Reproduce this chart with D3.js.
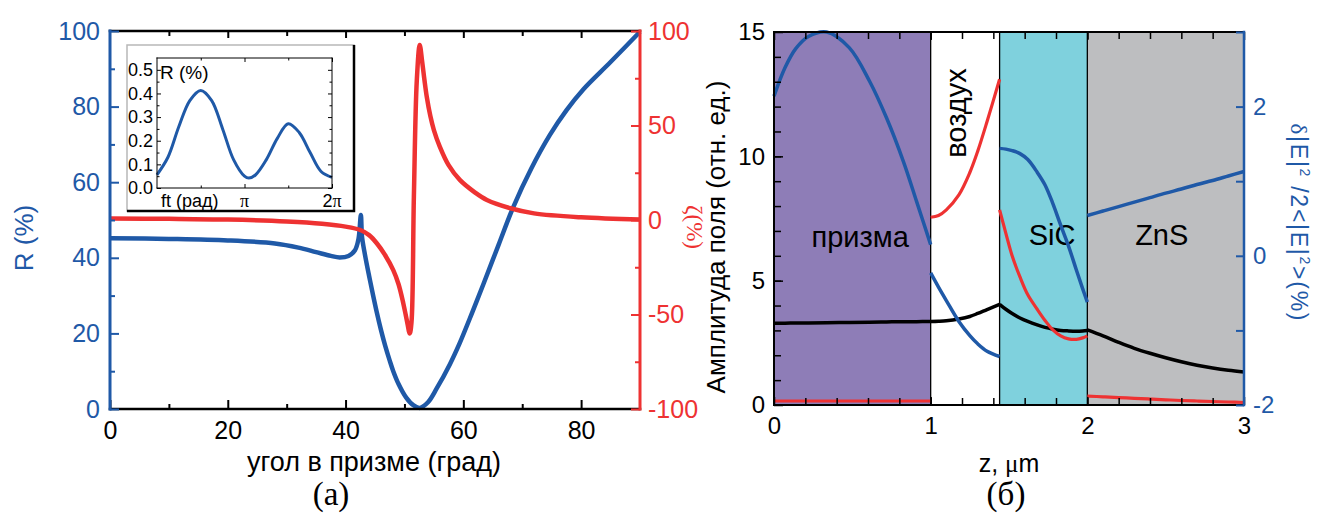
<!DOCTYPE html>
<html>
<head>
<meta charset="utf-8">
<script src="https://cdn.jsdelivr.net/npm/d3@7"></script>
<style>
  body { margin: 0; background: #fff; }
  svg { display: block; font-family: "Liberation Sans", Arial, sans-serif; }
</style>
</head>
<body>
<svg width="1317" height="514"></svg>
<script>
// ---- panel (a): reflectance R and zeta vs angle in prism
const angR  = [0, 10, 20, 28, 32, 35, 37.5, 39, 40.5, 41.6, 42.2, 42.6, 42.8, 43.3, 44, 44.7, 45.3, 46, 46.7, 47.5, 48.1, 49, 50.3, 51.5, 52.6, 54, 55.5, 57.7, 59.4, 61.5, 63.4, 66, 68.5, 71.5, 74.7, 77.5, 80.4, 85, 90];
const reflR = [45.2, 45.0, 44.6, 43.8, 42.7, 41.5, 40.5, 40.1, 40.5, 42.0, 45.0, 51.3, 45.5, 40.8, 35.2, 29.9, 25.6, 21.0, 16.9, 12.8, 10.0, 6.6, 3.0, 1.0, 0.3, 1.8, 5.5, 11.8, 17.5, 25.5, 33.0, 43.5, 53.5, 63.5, 72.5, 79.0, 84.6, 91.8, 99.8];

const angZ = [0, 10, 20, 30, 36, 40, 42.5, 44, 45.3, 46.7, 48.1, 49.0, 49.8, 50.4, 50.9, 51.2, 51.6, 52.1, 52.6, 53.0, 53.4, 53.8, 54.4, 55.0, 56.0, 57.5, 59.4, 62, 64, 68, 72, 80, 90];
const zeta = [0.8, 0.6, 0.2, -0.8, -2.0, -3.5, -5.3, -8.0, -12.3, -18.5, -26.5, -34, -44, -53, -60, -54, 12, 74, 92.6, 84, 74, 65, 55, 47.6, 38.8, 29, 21.2, 14.5, 10.6, 6.2, 3.5, 1.4, 0.2];

// inset: R (%) over one period, phase in units of pi
const insPhase = [0, 0.125, 0.25, 0.375, 0.5, 0.625, 0.75, 0.875, 1.0, 1.05, 1.125, 1.25, 1.375, 1.5, 1.625, 1.75, 1.875, 2.0];
const insR     = [0.056, 0.13, 0.26, 0.37, 0.413, 0.37, 0.25, 0.12, 0.05, 0.042, 0.055, 0.12, 0.21, 0.272, 0.235, 0.15, 0.07, 0.045];

// ---- panel (б): field in layered structure
const layerEdges  = [0, 1, 1.44, 2, 3];
const layerColors = ["#8e7db7", "#ffffff", "#7fd1dd", "#bdbec0"];

const zPr    = [0, 0.07, 0.14, 0.22, 0.336, 0.48, 0.61, 0.718, 0.825, 0.91, 1.0];
const ampPr  = [3.29, 3.29, 3.3, 3.3, 3.31, 3.32, 3.33, 3.34, 3.35, 3.35, 3.36];
const redPr  = [0.16, 0.16, 0.16, 0.16, 0.16, 0.16, 0.16, 0.16, 0.16, 0.16, 0.16];
const dPr    = [2.14, 2.52, 2.78, 2.94, 3.0, 2.79, 2.34, 1.85, 1.27, 0.73, 0.15];

const zAir   = [1.0, 1.05, 1.1, 1.18, 1.25, 1.3, 1.36, 1.44];
const ampAir = [3.36, 3.37, 3.39, 3.46, 3.56, 3.68, 3.84, 4.05];
const redAir = [7.55, 7.62, 7.85, 8.45, 9.35, 10.2, 11.4, 13.1];
const dAir   = [-0.23, -0.42, -0.6, -0.88, -1.07, -1.18, -1.28, -1.35];

const zSiC   = [1.44, 1.48, 1.52, 1.57, 1.62, 1.68, 1.73, 1.78, 1.83, 1.88, 1.93, 1.97, 2.0];
const ampSiC = [4.05, 3.85, 3.68, 3.5, 3.36, 3.22, 3.12, 3.05, 3.0, 2.98, 2.97, 2.98, 3.0];
const redSiC = [7.85, 6.9, 6.0, 5.15, 4.43, 3.85, 3.4, 3.02, 2.78, 2.66, 2.64, 2.7, 2.78];
const dSiC   = [1.44, 1.43, 1.41, 1.37, 1.29, 1.12, 0.95, 0.7, 0.41, 0.13, -0.19, -0.44, -0.62];

const zZnS   = [2.0, 2.1, 2.2, 2.3, 2.4, 2.5, 2.6, 2.7, 2.8, 2.9, 3.0];
const ampZnS = [3.02, 2.78, 2.52, 2.28, 2.08, 1.9, 1.74, 1.6, 1.49, 1.4, 1.33];
const redZnS = [0.36, 0.33, 0.3, 0.27, 0.24, 0.21, 0.18, 0.16, 0.14, 0.12, 0.1];
const dZnS   = [0.54, 0.6, 0.66, 0.72, 0.78, 0.84, 0.895, 0.955, 1.01, 1.07, 1.13];

const blue = "#1f59a7", red = "#ee3232";
const sans = "'Liberation Sans', Arial, sans-serif",
      serif = "'Liberation Serif', 'Times New Roman', serif";

var svg = d3.select("svg");

function curve(x, y) {
  return d3.line().x(d => x(d[0])).y(d => y(d[1])).curve(d3.curveCatmullRom.alpha(0.5));
}

function axis(parent, make, scale, o) {
  var g = parent.append("g").attr("transform", `translate(${o.tx || 0},${o.ty || 0})`);
  g.append("g").call(make(scale).tickValues(o.minor).tickSize(-o.minSize).tickFormat(() => ""));
  g.append("g").call(make(scale).tickValues(o.major).tickSize(-o.majSize).tickPadding(o.pad || 8)
                     .tickFormat(o.fmt || (() => "")));
  g.selectAll(".domain").remove();
  g.selectAll("line").attr("stroke", o.color).attr("stroke-width", o.tw || 1.5);
  g.selectAll("text").attr("fill", o.color).style("font-size", o.fs + "px").style("font-family", sans);
  var r = scale.range(), vert = (make === d3.axisLeft || make === d3.axisRight);
  g.append("line")
   .attr("x1", vert ? 0 : r[0]).attr("x2", vert ? 0 : r[1])
   .attr("y1", vert ? r[0] : 0).attr("y2", vert ? r[1] : 0)
   .attr("stroke", o.color).attr("stroke-width", o.lw)
   .attr("stroke-linecap", "square");
  return g;
}

// ================= panel (a) =================
var xA = d3.scaleLinear().domain([0, 90]).range([110, 640]),
    yR = d3.scaleLinear().domain([0, 100]).range([409, 31]),
    yZ = d3.scaleLinear().domain([-100, 100]).range([409, 31]);

var gA = svg.append("g");

gA.append("path").datum(d3.zip(angR, reflR))
  .attr("d", curve(xA, yR)).attr("fill", "none")
  .attr("stroke", blue).attr("stroke-width", 4.5);

gA.append("path").datum(d3.zip(angZ, zeta))
  .attr("d", curve(xA, yZ)).attr("fill", "none")
  .attr("stroke", red).attr("stroke-width", 4.5);

axis(gA, d3.axisBottom, xA, {ty: 409, major: [0, 20, 40, 60, 80], minor: d3.range(10, 90, 20),
     majSize: 9, minSize: 5, color: "#000", lw: 2.5, tw: 2, fs: 25, pad: 12, fmt: d => d});
axis(gA, d3.axisTop, xA, {ty: 31, major: [20, 40, 60, 80], minor: d3.range(10, 90, 20),
     majSize: 7, minSize: 5, color: "#000", lw: 2.5, tw: 2, fs: 25});
axis(gA, d3.axisLeft, yR, {tx: 110, major: d3.range(0, 101, 20), minor: d3.range(10, 100, 20),
     majSize: 9, minSize: 5, color: blue, lw: 3, tw: 2, fs: 25, pad: 10, fmt: d => d});
axis(gA, d3.axisRight, yZ, {tx: 640, major: [-100, -50, 0, 50, 100], minor: [-75, -25, 25, 75],
     majSize: 9, minSize: 5, color: red, lw: 3, tw: 2, fs: 25, pad: 8, fmt: d => d});

gA.append("text").attr("x", 374).attr("y", 471).attr("text-anchor", "middle")
  .style("font-size", "27px").text("угол в призме (град)");
gA.append("text").attr("transform", "translate(33,238) rotate(-90)").attr("text-anchor", "middle")
  .attr("fill", blue).style("font-size", "26px").text("R (%)");
gA.append("text").attr("transform", "translate(687,227) rotate(90)").attr("text-anchor", "middle")
  .attr("fill", red).style("font-family", serif).style("font-size", "23px").text("ζ(%)");
gA.append("text").attr("x", 331).attr("y", 505).attr("text-anchor", "middle")
  .style("font-family", serif).style("font-size", "33px").text("(а)");

// ---- inset
var gI = svg.append("g");
gI.append("rect").attr("x", 127).attr("y", 45).attr("width", 227).attr("height", 166)
  .attr("fill", "#fff").attr("stroke", "#b8b8b8").attr("stroke-width", 1.5);
gI.append("path").attr("d", "M354,45V211H127").attr("fill", "none")
  .attr("stroke", "#000").attr("stroke-width", 2.5);

var xI = d3.scaleLinear().domain([0, 2]).range([157, 332]),
    yI = d3.scaleLinear().domain([0, 0.55]).range([188, 58]);

gI.append("path").datum(d3.zip(insPhase, insR))
  .attr("d", curve(xI, yI)).attr("fill", "none")
  .attr("stroke", blue).attr("stroke-width", 3);

axis(gI, d3.axisLeft, yI, {tx: 157, major: d3.range(0, 0.51, 0.1), minor: d3.range(0.05, 0.55, 0.1),
     majSize: 4, minSize: 2.5, color: "#000", lw: 1, tw: 1, fs: 18, pad: 4, fmt: d3.format(".1f")});
axis(gI, d3.axisRight, yI, {tx: 332, major: d3.range(0, 0.51, 0.1), minor: d3.range(0.05, 0.55, 0.1),
     majSize: 4, minSize: 2.5, color: "#000", lw: 1, tw: 1, fs: 18});
axis(gI, d3.axisBottom, xI, {ty: 188, major: [1, 2], minor: [0.5, 1.5],
     majSize: 4, minSize: 2.5, color: "#000", lw: 1, tw: 1, fs: 18});
axis(gI, d3.axisTop, xI, {ty: 58, major: [1, 2], minor: [0.5, 1.5],
     majSize: 4, minSize: 2.5, color: "#000", lw: 1, tw: 1, fs: 18});

gI.append("text").attr("x", 160).attr("y", 79).style("font-size", "19px").text("R (%)");
gI.append("text").attr("x", 161).attr("y", 207).style("font-size", "18px").text("ft (рад)");
gI.append("text").attr("x", xI(1)).attr("y", 207).attr("text-anchor", "middle")
  .style("font-family", serif).style("font-size", "18px").text("π");
gI.append("text").attr("x", xI(2)).attr("y", 207).attr("text-anchor", "middle")
  .style("font-size", "18px")
  .call(t => { t.append("tspan").text("2"); t.append("tspan").style("font-family", serif).text("π"); });

// ================= panel (б) =================
var xB = d3.scaleLinear().domain([0, 3]).range([774, 1244]),
    yAmp = d3.scaleLinear().domain([0, 15]).range([405, 32]),
    yD = d3.scaleLinear().domain([-2, 3]).range([405, 32]);

var gB = svg.append("g");

gB.selectAll("rect.layer")
  .data(layerColors)
  .enter().append("rect")
  .attr("class", "layer")
  .attr("x", (d, i) => xB(layerEdges[i]))
  .attr("width", (d, i) => xB(layerEdges[i + 1]) - xB(layerEdges[i]))
  .attr("y", yAmp(15)).attr("height", yAmp(0) - yAmp(15))
  .attr("fill", d => d);

gB.selectAll("line.edge")
  .data(layerEdges.slice(1, -1))
  .enter().append("line")
  .attr("class", "edge")
  .attr("x1", d => xB(d)).attr("x2", d => xB(d))
  .attr("y1", yAmp(15)).attr("y2", yAmp(0))
  .attr("stroke", "#000").attr("stroke-width", 1.3);

gB.append("text").attr("x", xB(0.55)).attr("y", 247).attr("text-anchor", "middle")
  .style("font-size", "29px").text("призма");
gB.append("text").attr("transform", `translate(${xB(1.22) + 1},113) rotate(-90)`).attr("text-anchor", "middle")
  .style("font-size", "29px").text("воздух");
gB.append("text").attr("x", xB(1.775)).attr("y", 245).attr("text-anchor", "middle")
  .style("font-size", "29px").text("SiC");
gB.append("text").attr("x", xB(2.475)).attr("y", 245).attr("text-anchor", "middle")
  .style("font-size", "29px").text("ZnS");

var segments = [
  {z: zPr, amp: ampPr, r: redPr, d: dPr},
  {z: zAir, amp: ampAir, r: redAir, d: dAir},
  {z: zSiC, amp: ampSiC, r: redSiC, d: dSiC},
  {z: zZnS, amp: ampZnS, r: redZnS, d: dZnS}
];

segments.forEach(s => {
  gB.append("path").datum(d3.zip(s.z, s.amp)).attr("d", curve(xB, yAmp))
    .attr("fill", "none").attr("stroke", "#000").attr("stroke-width", 3.5);
});
segments.forEach(s => {
  gB.append("path").datum(d3.zip(s.z, s.r)).attr("d", curve(xB, yAmp))
    .attr("fill", "none").attr("stroke", red).attr("stroke-width", 3.2);
});
segments.forEach(s => {
  gB.append("path").datum(d3.zip(s.z, s.d)).attr("d", curve(xB, yD))
    .attr("fill", "none").attr("stroke", blue).attr("stroke-width", 3.5);
});

axis(gB, d3.axisBottom, xB, {ty: 405, major: [0, 1, 2, 3], minor: d3.range(0.2, 3, 0.2),
     majSize: 8, minSize: 7, color: "#000", lw: 2, tw: 1.5, fs: 24, pad: 12, fmt: d => d});
axis(gB, d3.axisTop, xB, {ty: 32, major: [0, 1, 2, 3], minor: d3.range(0.2, 3, 0.2),
     majSize: 8, minSize: 7, color: "#000", lw: 2, tw: 1.5, fs: 24});
axis(gB, d3.axisLeft, yAmp, {tx: 774, major: [0, 5, 10, 15], minor: d3.range(1, 15, 1),
     majSize: 9, minSize: 7, color: "#000", lw: 2, tw: 1.5, fs: 24, pad: 9, fmt: d => d});
axis(gB, d3.axisRight, yD, {tx: 1244, major: [-2, 0, 2], minor: [-1, 1, 3],
     majSize: 8, minSize: 8, color: blue, lw: 2.5, tw: 2, fs: 24, pad: 9, fmt: d => d});

gB.append("text").attr("x", 1009).attr("y", 472).attr("text-anchor", "middle")
  .style("font-size", "25px")
  .call(t => {
    t.append("tspan").text("z, ");
    t.append("tspan").style("font-family", serif).text("μ");
    t.append("tspan").text("m");
  });
gB.append("text").attr("x", 1006).attr("y", 505).attr("text-anchor", "middle")
  .style("font-family", serif).style("font-size", "33px").text("(б)");
gB.append("text").attr("transform", "translate(725,237) rotate(-90)").attr("text-anchor", "middle")
  .style("font-size", "26px").text("Амплитуда поля (отн. ед.)");

gB.append("text").attr("transform", "translate(1291,222) rotate(90)").attr("text-anchor", "middle")
  .attr("fill", blue).style("font-size", "23px")
  .attr("textLength", 197).attr("lengthAdjust", "spacing")
  .call(t => {
    t.append("tspan").style("font-family", serif).text("δ");
    t.append("tspan").text("|E|");
    t.append("tspan").attr("dy", -9).style("font-size", "14px").text("2");
    t.append("tspan").attr("dy", 9).text(" /2<|E|");
    t.append("tspan").attr("dy", -9).style("font-size", "14px").text("2");
    t.append("tspan").attr("dy", 9).text(">(%)");
  });
</script>
</body>
</html>
